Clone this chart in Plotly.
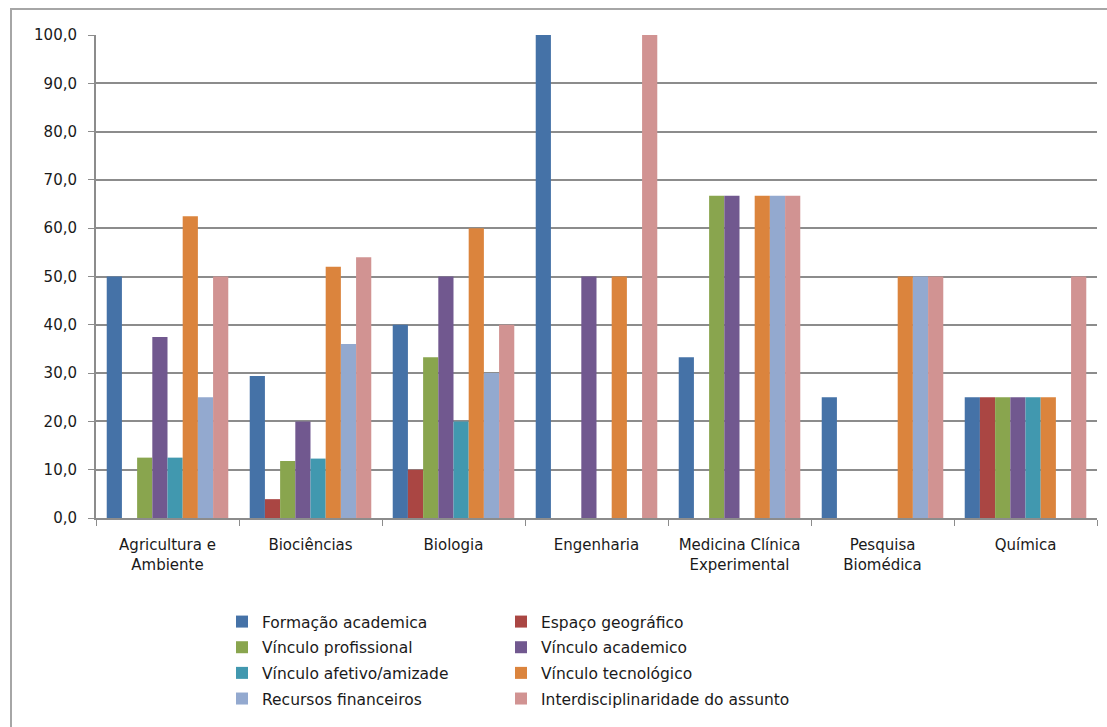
import plotly.graph_objects as go

categories = ["Agricultura e<br>Ambiente", "Biociências", "Biologia", "Engenharia",
              "Medicina Clínica<br>Experimental", "Pesquisa<br>Biomédica", "Química"]

series_names = ["Formação academica", "Espaço geográfico", "Vínculo profissional",
                "Vínculo academico", "Vínculo afetivo/amizade", "Vínculo tecnológico",
                "Recursos financeiros", "Interdisciplinaridade do assunto"]

formacao_academica = [50.0, 29.4, 40.0, 100.0, 33.3, 25.0, 25.0]
espaco_geografico = [0.0, 3.9, 10.0, 0.0, 0.0, 0.0, 25.0]
vinculo_profissional = [12.5, 11.8, 33.3, 0.0, 66.7, 0.0, 25.0]
vinculo_academico = [37.5, 20.0, 50.0, 50.0, 66.7, 0.0, 25.0]
vinculo_afetivo = [12.5, 12.3, 20.0, 0.0, 0.0, 0.0, 25.0]
vinculo_tecnologico = [62.5, 52.0, 60.0, 50.0, 66.7, 50.0, 25.0]
recursos_financeiros = [25.0, 36.0, 30.0, 0.0, 66.7, 50.0, 0.0]
interdisciplinaridade = [50.0, 54.0, 40.0, 100.0, 66.7, 50.0, 50.0]

series_values = [formacao_academica, espaco_geografico, vinculo_profissional,
                 vinculo_academico, vinculo_afetivo, vinculo_tecnologico,
                 recursos_financeiros, interdisciplinaridade]

colors = ["#4572A7", "#AA4643", "#89A54E", "#71588F",
          "#4198AF", "#DB843D", "#93A9CF", "#D19392"]

FONT = "'DejaVu Sans', sans-serif"
TXT = "#1a1a1a"

fig = go.Figure()
for i, (name, vals) in enumerate(zip(series_names, series_values)):
    fig.add_trace(go.Bar(
        x=categories, y=vals, name=name,
        marker=dict(color=colors[i], line=dict(width=0)),
        legend="legend" if i % 2 == 0 else "legend2",
        legendgroup=name,
        hoverinfo="x+y+name",
    ))

W, H = 1107, 727
L, R, T, B = 96, 10, 35, 209
pw, ph = W - L - R, H - T - B

def px_x(p):
    return (p - L) / pw

def px_y(p):
    return (H - B - p) / ph

legend_common = dict(
    orientation="v",
    font=dict(family=FONT, size=15.5, color=TXT),
    bgcolor="rgba(0,0,0,0)",
    xanchor="left", yanchor="top",
    tracegroupgap=2.5,
    itemclick=False, itemdoubleclick=False,
)

fig.update_layout(
    width=W, height=H,
    margin=dict(l=L, r=R, t=T, b=B),
    paper_bgcolor="white", plot_bgcolor="white",
    barmode="group", bargap=0.15, bargroupgap=0.0,
    separators=",.",
    font=dict(family=FONT, size=14, color=TXT),
    showlegend=True,
    legend=dict(x=px_x(222), y=px_y(605), **legend_common),
    legend2=dict(x=px_x(501), y=px_y(605), **legend_common),
    xaxis=dict(
        type="category",
        showline=True, linecolor="#8c8c8c", linewidth=2,
        ticks="outside", tickson="boundaries", ticklen=6, tickcolor="#8c8c8c",
        tickfont=dict(family=FONT, size=15, color=TXT),
        ticklabelstandoff=12,
        showgrid=False,
    ),
    yaxis=dict(
        range=[0, 100], dtick=10, tick0=0, tickformat=".1f",
        showline=True, linecolor="#8c8c8c", linewidth=2,
        ticks="outside", ticklen=6, tickcolor="#8c8c8c",
        showgrid=True, gridcolor="#8c8c8c", gridwidth=1.5,
        tickfont=dict(family=FONT, size=15, color=TXT),
        ticklabelstandoff=8,
        zeroline=False,
    ),
    shapes=[dict(
        type="rect", xref="paper", yref="paper",
        x0=px_x(11), x1=px_x(1200), y0=px_y(900), y1=px_y(9),
        line=dict(color="#a6a6a6", width=2), fillcolor="rgba(0,0,0,0)",
        layer="below",
    )],
)

fig.write_html("out.html")
